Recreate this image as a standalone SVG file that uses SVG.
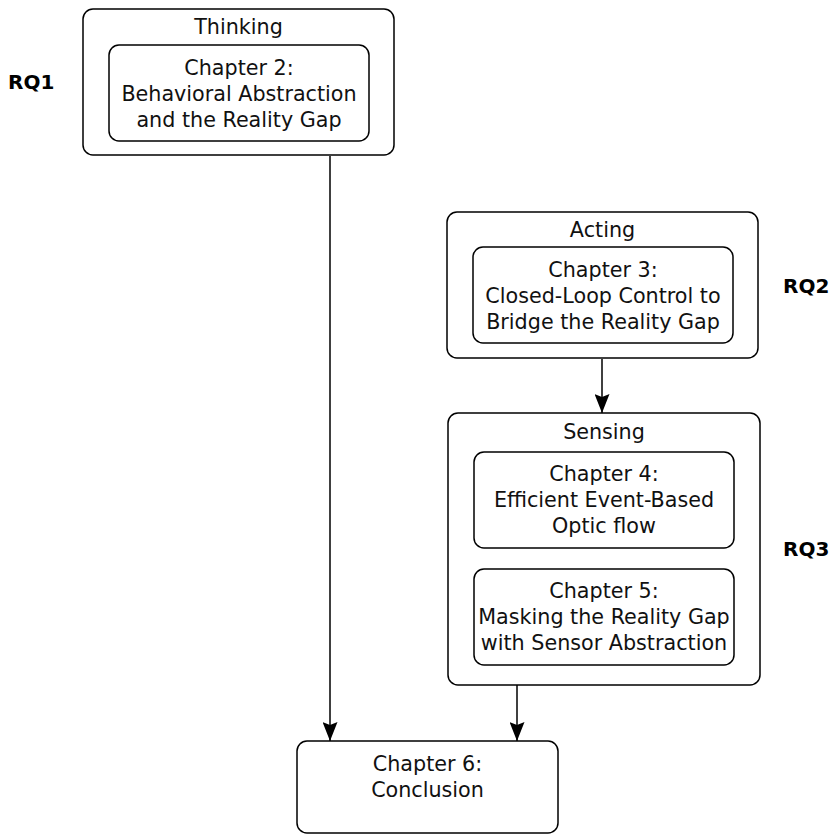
<svg xmlns="http://www.w3.org/2000/svg" width="833" height="835" viewBox="0 0 833 835">
<style>
.box{fill:#fff;stroke:#000;stroke-width:1.5}
.t{font-family:"DejaVu Sans",sans-serif;font-size:20.7px;fill:#111;text-anchor:middle}
.rq{font-family:"DejaVu Sans",sans-serif;font-size:20px;font-weight:bold;fill:#000}
.edge{stroke:#000;stroke-width:1.5;fill:none;marker-end:url(#arr)}
</style>
<defs>
<marker id="arr" markerUnits="userSpaceOnUse" markerWidth="20" markerHeight="15" refX="19" refY="7.5" orient="auto" viewBox="0 0 20 15">
<path d="M0,0 L19,7.5 L0,15 L3,7.5 Z" fill="#000"/>
</marker>
</defs>
<rect width="833" height="835" fill="#fff"/>
<g id="connectors">
<line class="edge" x1="330" y1="156" x2="330" y2="741"/>
<line class="edge" x1="602" y1="359" x2="602" y2="413"/>
<line class="edge" x1="517" y1="685" x2="517" y2="741"/>
</g>
<g id="thinking">
<rect class="box" x="83" y="9" width="311" height="146" rx="10"/>
<text class="t" x="238.5" y="34">Thinking</text>
</g>
<g id="ch2">
<rect class="box" x="109" y="45" width="260" height="96" rx="10"/>
<text class="t" x="239" y="75">Chapter 2:</text>
<text class="t" x="239" y="101">Behavioral Abstraction</text>
<text class="t" x="239" y="127">and the Reality Gap</text>
</g>
<g id="rq1"><text class="rq" x="8" y="89">RQ1</text></g>
<g id="acting">
<rect class="box" x="447" y="212" width="311" height="146" rx="10"/>
<text class="t" x="602.5" y="237">Acting</text>
</g>
<g id="ch3">
<rect class="box" x="473" y="247" width="260" height="96" rx="10"/>
<text class="t" x="603" y="277">Chapter 3:</text>
<text class="t" x="603" y="303">Closed-Loop Control to</text>
<text class="t" x="603" y="329">Bridge the Reality Gap</text>
</g>
<g id="rq2"><text class="rq" x="783" y="293">RQ2</text></g>
<g id="sensing">
<rect class="box" x="448" y="413" width="312" height="272" rx="10"/>
<text class="t" x="604" y="439">Sensing</text>
</g>
<g id="ch4">
<rect class="box" x="474" y="452" width="260" height="96" rx="10"/>
<text class="t" x="604" y="481">Chapter 4:</text>
<text class="t" x="604" y="507">Efficient Event-Based</text>
<text class="t" x="604" y="533">Optic flow</text>
</g>
<g id="ch5">
<rect class="box" x="474" y="569" width="260" height="96" rx="10"/>
<text class="t" x="604" y="598">Chapter 5:</text>
<text class="t" x="604" y="624">Masking the Reality Gap</text>
<text class="t" x="604" y="650">with Sensor Abstraction</text>
</g>
<g id="rq3"><text class="rq" x="783" y="556">RQ3</text></g>
<g id="conclusion">
<rect class="box" x="297" y="741" width="261" height="92" rx="10"/>
<text class="t" x="427.5" y="771">Chapter 6:</text>
<text class="t" x="427.5" y="797">Conclusion</text>
</g>
</svg>
